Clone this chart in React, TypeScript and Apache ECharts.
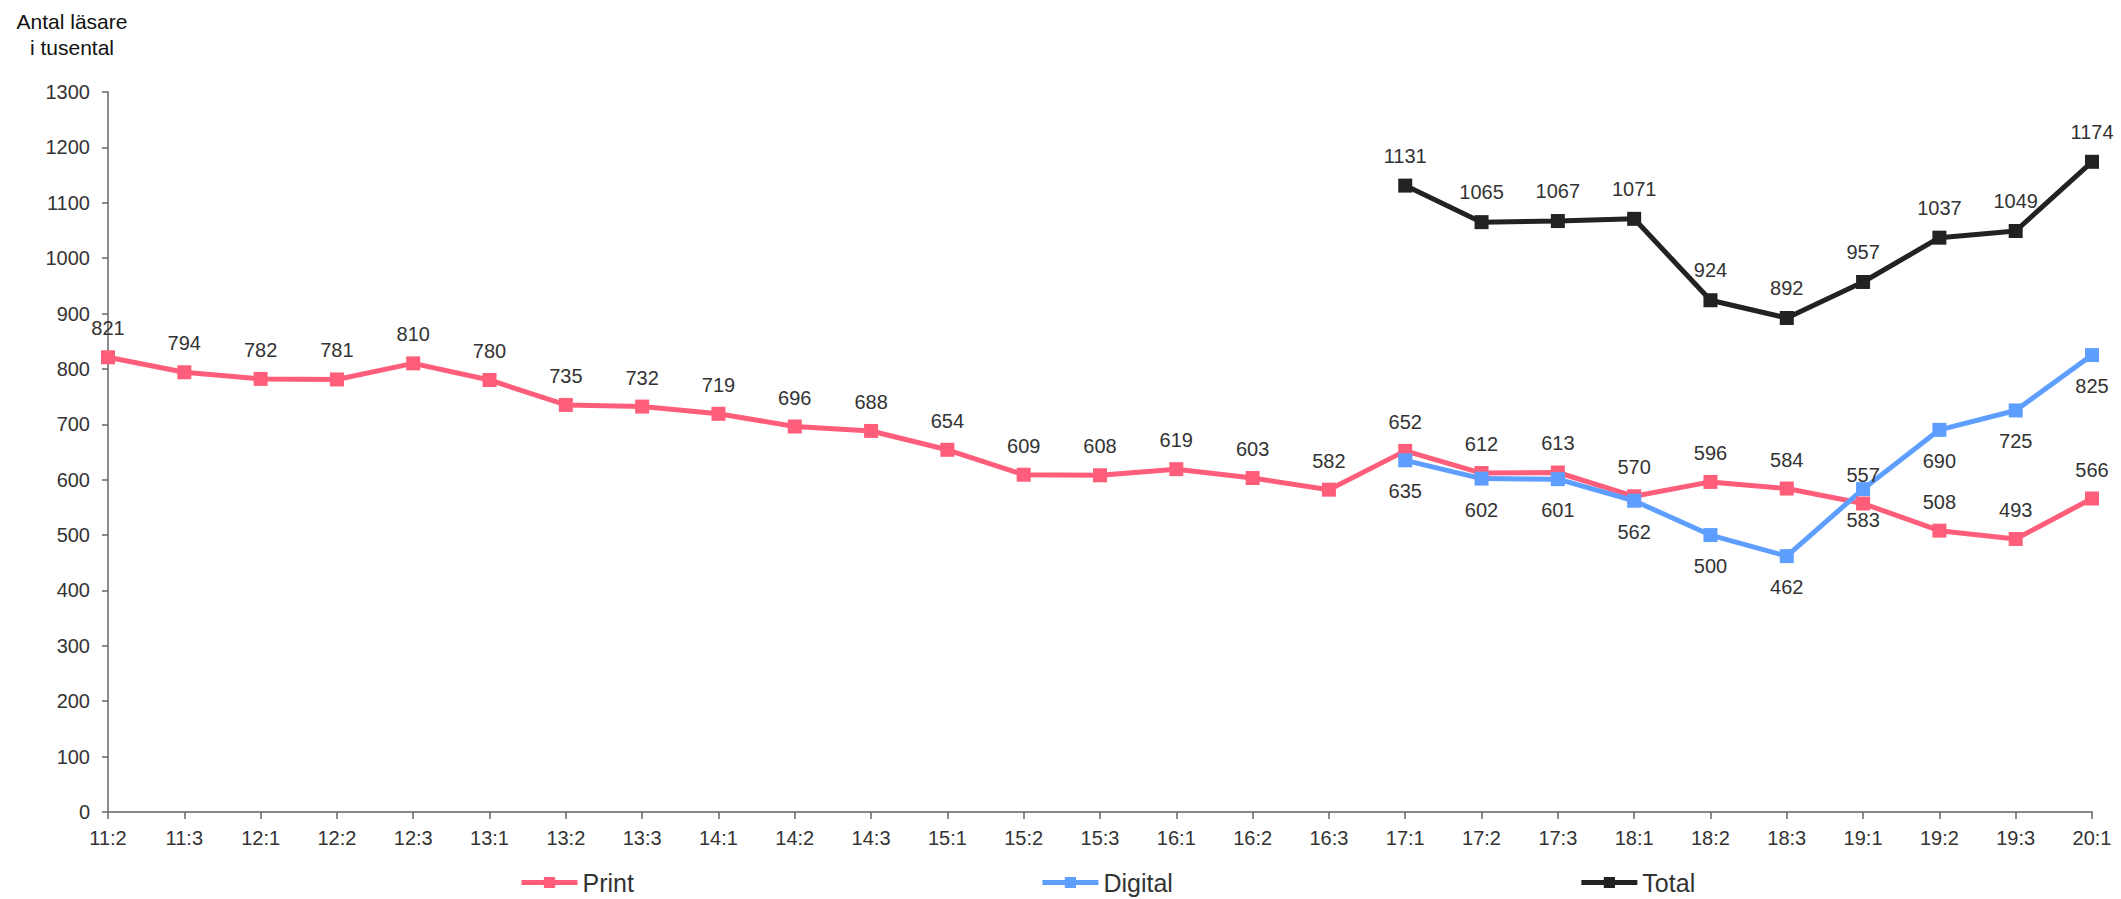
import React, { useEffect, useRef } from "react";
import * as echarts from "echarts";

const categories = [
  "11:2", "11:3", "12:1", "12:2", "12:3", "13:1", "13:2", "13:3", "14:1", "14:2",
  "14:3", "15:1", "15:2", "15:3", "16:1", "16:2", "16:3", "17:1", "17:2", "17:3",
  "18:1", "18:2", "18:3", "19:1", "19:2", "19:3", "20:1",
];

const printValues = [
  821, 794, 782, 781, 810, 780, 735, 732, 719, 696,
  688, 654, 609, 608, 619, 603, 582, 652, 612, 613,
  570, 596, 584, 557, 508, 493, 566,
];

const digitalValues = [
  null, null, null, null, null, null, null, null, null, null,
  null, null, null, null, null, null, null, 635, 602, 601,
  562, 500, 462, 583, 690, 725, 825,
];

const totalValues = [
  null, null, null, null, null, null, null, null, null, null,
  null, null, null, null, null, null, null, 1131, 1065, 1067,
  1071, 924, 892, 957, 1037, 1049, 1174,
];

const FONT = "'Liberation Sans', Arial, sans-serif";
const TEXT = "#333333";

export default function App() {
  const ref = useRef<HTMLDivElement>(null);

  useEffect(() => {
    if (!ref.current) return;
    const chart = echarts.init(ref.current, undefined, { renderer: "svg" });

    const mkSeries = (
      name: string,
      data: (number | null)[],
      color: string,
      pos: "top" | "bottom",
      dist: number
    ) => ({
      name,
      type: "line",
      data,
      symbol: "rect",
      symbolSize: 14,
      connectNulls: false,
      lineStyle: { color, width: 5 },
      itemStyle: { color },
      label: {
        show: true,
        position: pos,
        distance: dist,
        color: TEXT,
        fontSize: 20,
        fontFamily: FONT,
      },
      emphasis: { disabled: true },
    });

    chart.setOption({
      animation: false,
      textStyle: { fontFamily: FONT },
      grid: { left: 108, right: 29, top: 92, bottom: 87, containLabel: false },
      graphic: [
        {
          type: "text",
          x: 72,
          y: 8,
          style: {
            text: "Antal läsare\ni tusental",
            fontSize: 21,
            lineHeight: 26,
            fill: "#111",
            fontFamily: FONT,
            textAlign: "center",
            textVerticalAlign: "top",
          },
        },
      ],
      legend: {
        left: 514,
        top: 865,
        itemWidth: 56,
        itemHeight: 14,
        itemGap: 406,
        lineStyle: { width: 5 },
        textStyle: { fontSize: 25, color: TEXT, fontFamily: FONT, padding: [0, 0, 0, 0] },
        data: ["Print", "Digital", "Total"],
      },
      xAxis: {
        type: "category",
        data: categories,
        boundaryGap: false,
        axisLine: { lineStyle: { color: "#888", width: 2 } },
        axisTick: { show: true, length: 7, lineStyle: { color: "#666", width: 1.5 } },
        axisLabel: { color: TEXT, fontSize: 20, margin: 16, fontFamily: FONT, interval: 0 },
        splitLine: { show: false },
      },
      yAxis: {
        type: "value",
        min: 0,
        max: 1300,
        interval: 100,
        axisLine: { show: true, lineStyle: { color: "#666", width: 1.5 } },
        axisTick: { show: true, length: 6, lineStyle: { color: "#666", width: 1.5 } },
        axisLabel: {
          color: TEXT,
          fontSize: 20,
          margin: 18,
          fontFamily: FONT,
          formatter: (v: number) => String(v),
        },
        splitLine: { show: false },
      },
      series: [
        mkSeries("Print", printValues, "#FF5E7A", "top", 12),
        mkSeries("Digital", digitalValues, "#5E9EFF", "bottom", 14),
        mkSeries("Total", totalValues, "#222222", "top", 13),
      ],
    });

    return () => chart.dispose();
  }, []);

  return (
    <div
      ref={ref}
      style={{ position: "fixed", left: 0, top: 0, width: 2121, height: 899, background: "#fff" }}
    />
  );
}
